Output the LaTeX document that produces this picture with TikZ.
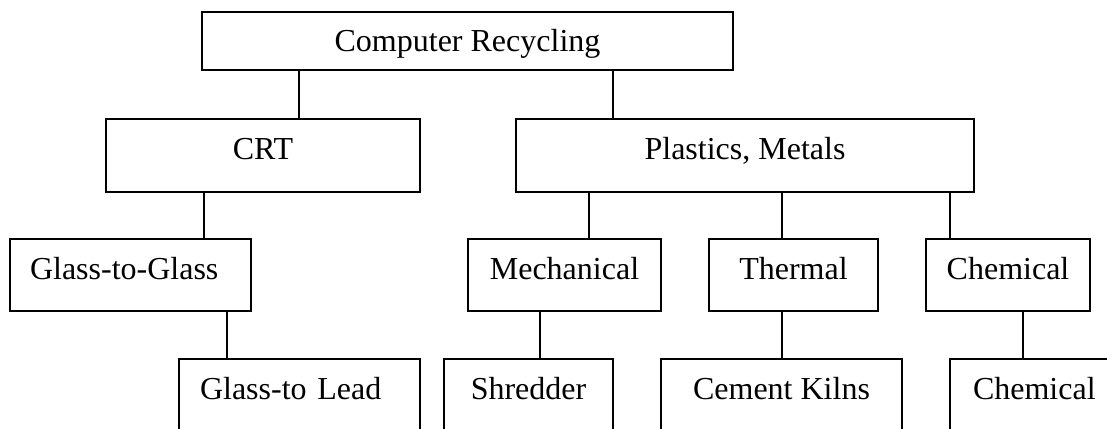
\documentclass[tikz,border=0pt]{standalone}
\usepackage{fontspec}
\setmainfont{Liberation Serif}

\begin{document}
\begin{tikzpicture}[x=1pt,y=-1pt]

      \useasboundingbox (0,0) rectangle (1107,428);
      \clip (0,0) rectangle (1107,428);

      \begin{scope}[every node/.style={draw,line width=2pt,anchor=north west,outer sep=0pt,
          inner ysep=0pt,text height=40pt,font=\fontsize{32}{38}\selectfont}]
        \node[minimum width=531pt,text depth=18pt] (rec)   at (202,12)  {Computer Recycling};
        \node[minimum width=314pt,text depth=33pt] (crt)   at (106,119) {CRT};
        \node[minimum width=458pt,text depth=33pt] (plm)   at (516,119) {Plastics, Metals};
        \node[text width=201pt,inner xsep=20pt,align=left,text depth=32pt] (gtg) at (10,239) {Glass-to-Glass};
        \node[minimum width=193pt,text depth=32pt] (mech)  at (468,239) {Mechanical};
        \node[minimum width=169pt,text depth=32pt] (therm) at (709,239) {Thermal};
        \node[minimum width=164pt,text depth=32pt] (chem)  at (926,239) {Chemical};
        \node[text width=199pt,inner xsep=21pt,align=left,text depth=80pt] (gtl) at (179,359) {Glass-to Lead};
        \node[minimum width=169pt,text depth=80pt] (shred) at (444,359) {Shredder};
        \node[minimum width=241pt,text depth=80pt] (kiln)  at (661,359) {Cement Kilns};
        \node[text width=180pt,inner xsep=23pt,align=left,text depth=80pt] (chemb) at (950,359) {Chemical};
      \end{scope}

      % where the links run
      \coordinate (x1) at (299,0);
      \coordinate (x2) at (613,0);
      \coordinate (x3) at (204,0);
      \coordinate (x4) at (589,0);
      \coordinate (x5) at (782,0);
      \coordinate (x6) at (950,0);
      \coordinate (x7) at (227,0);
      \coordinate (x8) at (540,0);
      \coordinate (x9) at (1023,0);

      \begin{scope}[line width=1.5pt]
        \draw (rec.south -| x1)   -- (crt.north -| x1);
        \draw (rec.south -| x2)   -- (plm.north -| x2);
        \draw (crt.south -| x3)   -- (gtg.north -| x3);
        \draw (plm.south -| x4)   -- (mech.north -| x4);
        \draw (plm.south -| x5)   -- (therm.north -| x5);
        \draw (plm.south -| x6)   -- (chem.north -| x6);
        \draw (gtg.south -| x7)   -- (gtl.north -| x7);
        \draw (mech.south -| x8)  -- (shred.north -| x8);
        \draw (therm.south -| x5) -- (kiln.north -| x5);
        \draw (chem.south -| x9)  -- (chemb.north -| x9);
      \end{scope}

    \end{tikzpicture}
\end{document}
